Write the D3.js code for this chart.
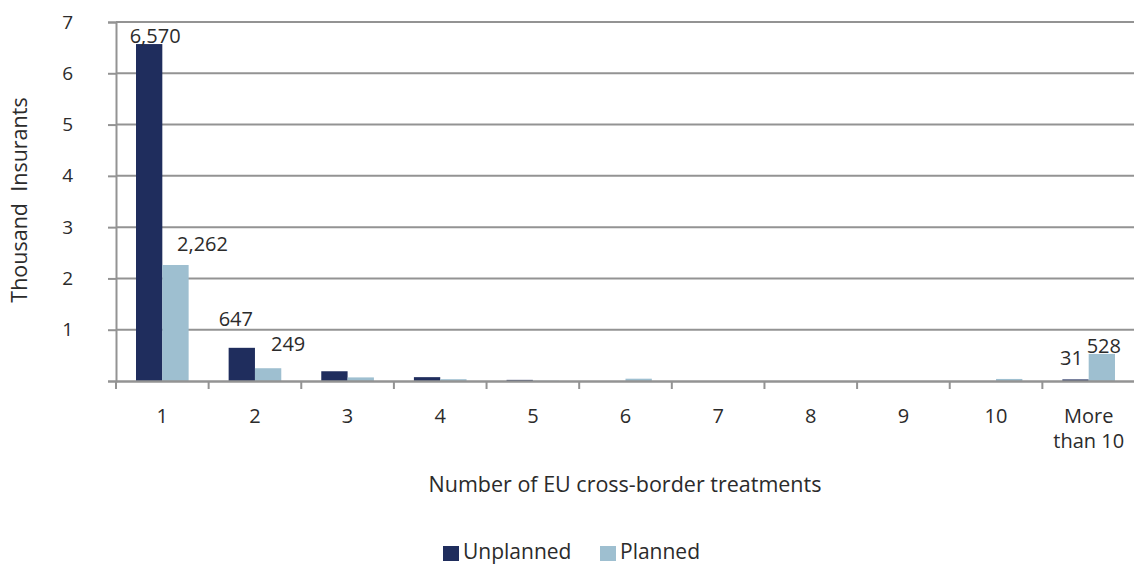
<!DOCTYPE html>
<html>
<head>
<meta charset="utf-8">
<script src="https://cdn.jsdelivr.net/npm/d3@7"></script>
<style>
  html, body { margin: 0; padding: 0; background: #fff; }
  svg { display: block; font-family: "Open Sans", "Noto Sans", sans-serif; }
</style>
</head>
<body>
<svg id="chart" width="1134" height="566"></svg>
<script>
// Number of insurants by count of EU cross-border treatments (thousands)
const categories = ["1", "2", "3", "4", "5", "6", "7", "8", "9", "10", "More than 10"];
const seriesNames = ["Unplanned", "Planned"];
const unplanned = [6570, 647, 190, 75, 22, 0, 0, 0, 0, 0, 31];
const planned   = [2262, 249, 70, 35, 4, 45, 0, 0, 0, 40, 528];
const yTicks = [1, 2, 3, 4, 5, 6, 7];
// values that carry a printed label: [series, category index]
const labelled = [["Unplanned", 0], ["Planned", 0], ["Unplanned", 1], ["Planned", 1], ["Unplanned", 10], ["Planned", 10]];

const colors = { Unplanned: "#1f2d5d", Planned: "#9ebfd0" };
const gridColor = "#939393";
const textColor = "#2b2b2b";

const svg = d3.select("#chart");
const margin = { left: 116, right: 0, top: 22, bottom: 185 };
const W = 1134, H = 566;

const x0 = d3.scaleBand().domain(categories).range([margin.left, 1135]).paddingInner(0).paddingOuter(0);
const x1 = d3.scaleBand().domain(seriesNames).range([0, x0.bandwidth()]).paddingInner(0).paddingOuter(0.76);
const y = d3.scaleLinear().domain([0, 7]).range([381, margin.top]);

const valueOf = (s, i) => (s === "Unplanned" ? unplanned[i] : planned[i]) / 1000;

// horizontal gridlines + y axis ticks
const yAxis = d3.axisLeft(y).tickValues([0, ...yTicks]).tickSize(8).tickFormat(d => d === 0 ? "" : d3.format("d")(d));
const gy = svg.append("g").attr("transform", `translate(${margin.left},0)`).call(yAxis);
gy.select(".domain").attr("stroke", gridColor).attr("stroke-width", 2);
gy.selectAll(".tick line").attr("stroke", gridColor).attr("stroke-width", 2);
gy.selectAll(".tick text").attr("x", -43).attr("fill", textColor).attr("font-size", 19).attr("font-family", "Open Sans");

svg.append("g").selectAll("line").data(yTicks).join("line")
  .attr("x1", margin.left).attr("x2", W)
  .attr("y1", d => y(d)).attr("y2", d => y(d))
  .attr("stroke", gridColor).attr("stroke-width", 2);

// bars
const groups = svg.append("g").selectAll("g").data(categories).join("g")
  .attr("transform", d => `translate(${x0(d)},0)`);
groups.selectAll("rect")
  .data((d, i) => seriesNames.map(s => ({ s, v: valueOf(s, i) })))
  .join("rect")
  .attr("x", d => x1(d.s))
  .attr("width", x1.bandwidth())
  .attr("y", d => y(d.v))
  .attr("height", d => y(0) - y(d.v))
  .attr("fill", d => colors[d.s]);

// x axis
const xAxis = d3.axisBottom(x0).tickSize(0).tickFormat("");
const gx = svg.append("g").attr("transform", `translate(0,${y(0)})`).call(xAxis);
gx.select(".domain").attr("stroke", gridColor).attr("stroke-width", 2.5);
// category separators
svg.append("g").selectAll("line").data(categories).join("line")
  .attr("x1", d => x0(d)).attr("x2", d => x0(d))
  .attr("y1", y(0)).attr("y2", y(0) + 8)
  .attr("stroke", gridColor).attr("stroke-width", 2);

// category labels (wrapping the long one)
const catLabels = svg.append("g").selectAll("text").data(categories).join("text")
  .attr("x", d => x0(d) + x0.bandwidth() / 2)
  .attr("y", 423)
  .attr("text-anchor", "middle")
  .attr("fill", textColor)
  .attr("font-size", 20);
catLabels.each(function (d) {
  const t = d3.select(this);
  const parts = d === "More than 10" ? ["More", "than 10"] : [d];
  parts.forEach((p, k) => {
    t.append("tspan").attr("x", x0(d) + x0.bandwidth() / 2).attr("dy", k === 0 ? 0 : 25).text(p);
  });
});

// value labels, nudged clear of neighbouring bars
const nudge = { "Unplanned-0": [6, -1], "Planned-0": [27, -14], "Unplanned-1": [-6, -22], "Planned-1": [20, -17], "Unplanned-10": [-4, -14], "Planned-10": [2, -1] };
const fmt = d3.format(",");
svg.append("g").selectAll("text").data(labelled).join("text")
  .attr("x", ([s, i]) => x0(categories[i]) + x1(s) + x1.bandwidth() / 2 + nudge[`${s}-${i}`][0])
  .attr("y", ([s, i]) => y(valueOf(s, i)) + nudge[`${s}-${i}`][1])
  .attr("text-anchor", "middle")
  .attr("fill", textColor)
  .attr("font-size", 20)
  .text(([s, i]) => fmt(s === "Unplanned" ? unplanned[i] : planned[i]));

// axis titles
svg.append("text")
  .attr("x", 625).attr("y", 492)
  .attr("text-anchor", "middle").attr("fill", textColor).attr("font-size", 21.5)
  .text("Number of EU cross-border treatments");
svg.append("text")
  .attr("transform", `translate(27,200) rotate(-90)`)
  .attr("text-anchor", "middle").attr("fill", textColor).attr("font-size", 21.5)
  .attr("xml:space", "preserve")
  .text("Thousand  Insurants");

// legend
const legend = svg.append("g");
const legendX = { Unplanned: 443, Planned: 600 };
seriesNames.forEach(s => {
  legend.append("rect").attr("x", legendX[s]).attr("y", 546).attr("width", 16).attr("height", 15).attr("fill", colors[s]);
  legend.append("text").attr("x", legendX[s] + 20).attr("y", 559).attr("fill", textColor).attr("font-size", 21).text(s);
});
</script>
</body>
</html>
